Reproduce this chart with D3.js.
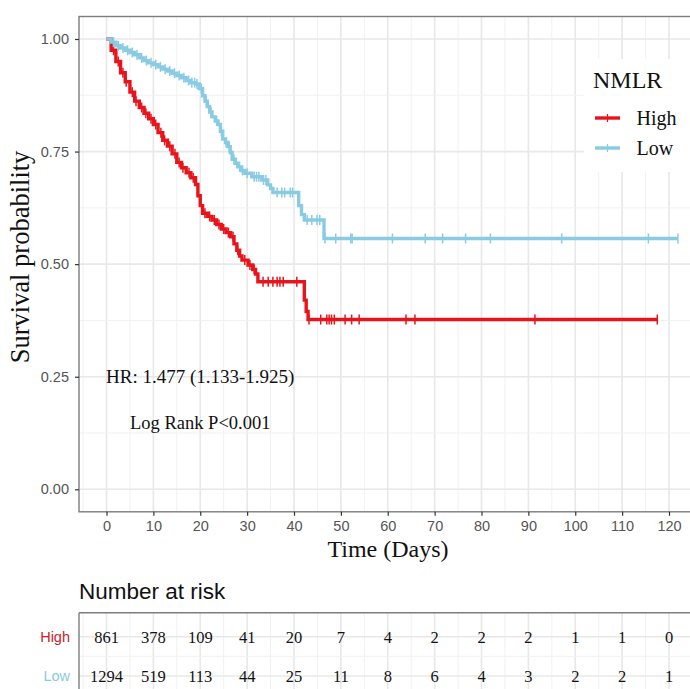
<!DOCTYPE html>
<html>
<head>
<meta charset="utf-8">
<script src="https://cdn.jsdelivr.net/npm/d3@7"></script>
<style>
  body { margin: 0; background: #fff; }
  svg { display: block; }
</style>
</head>
<body>
<div id="chart"></div>
<script>
// Kaplan-Meier steps
const highTime = [0, 1, 2, 3, 4, 5, 6, 7, 8, 9, 10, 11, 12, 13, 14, 15, 16, 17, 18, 19, 19.5, 20, 20.5, 21.5, 22.5, 23.5, 24.5, 25.5, 26.5, 27.2, 27.8, 28.4, 28.9, 30.2, 31.2, 31.8, 32.3, 42.2, 42.6, 43.0];
const highSurv = [1, 0.975, 0.95, 0.925, 0.905, 0.882, 0.862, 0.848, 0.835, 0.823, 0.81, 0.792, 0.775, 0.762, 0.745, 0.726, 0.714, 0.703, 0.692, 0.677, 0.652, 0.63, 0.613, 0.606, 0.598, 0.588, 0.578, 0.57, 0.561, 0.545, 0.531, 0.518, 0.509, 0.498, 0.488, 0.478, 0.461, 0.42, 0.395, 0.377];
const highCensor = [1.5, 2.5, 3.5, 4.2, 5.5, 6.3, 7.5, 8.4, 9.5, 10.5, 11.6, 12.4, 13.5, 14.6, 15.5, 16.3, 17.6, 18.5, 21, 22, 23, 24, 25, 26, 27, 28, 29.5, 30.6, 31.5, 33.4, 34.5, 35.5, 36.4, 37, 37.7, 40.6, 43.2, 45.7, 47, 47.5, 48, 48.6, 50.9, 52.3, 53.9, 63.9, 65.8, 91.4, 117.5];

const lowTime = [0, 1, 2, 3, 4, 5, 6, 7, 8, 9, 10, 11, 12, 13, 14, 15, 16, 17, 18, 19, 19.8, 20.5, 21, 21.5, 22, 22.5, 23.2, 23.8, 24.3, 24.8, 25.4, 25.9, 26.4, 26.8, 27.5, 28, 28.8, 29.5, 31, 33.1, 34.4, 35, 35.5, 41, 41.6, 42.2, 46.4];
const lowSurv = [1, 0.993, 0.985, 0.98, 0.975, 0.97, 0.965, 0.958, 0.952, 0.947, 0.943, 0.938, 0.933, 0.929, 0.924, 0.919, 0.914, 0.908, 0.903, 0.9, 0.89, 0.874, 0.862, 0.85, 0.838, 0.827, 0.818, 0.81, 0.795, 0.778, 0.77, 0.761, 0.748, 0.733, 0.724, 0.716, 0.708, 0.702, 0.694, 0.687, 0.676, 0.668, 0.659, 0.63, 0.61, 0.598, 0.557];
const lowCensor = [1.5, 2.5, 3.5, 4.5, 5.5, 6.5, 7.5, 8.5, 9.5, 10.5, 11.5, 12.5, 13.5, 14.5, 15.5, 16.5, 17.5, 18.2, 18.8, 19.3, 20.2, 21.3, 22.3, 23.5, 24.5, 25.5, 26.2, 27.2, 28.4, 29, 30, 31.5, 32, 32.5, 33.5, 34, 36.4, 37.4, 38, 39.2, 39.7, 42.8, 43.8, 44.9, 45.5, 46.6, 48.9, 52.1, 52.4, 61, 68, 71.7, 76.6, 81.9, 97.1, 115.6, 121.9];

// risk table
const riskTimes = [0, 10, 20, 30, 40, 50, 60, 70, 80, 90, 100, 110, 120];
const riskHigh = [861, 378, 109, 41, 20, 7, 4, 2, 2, 2, 1, 1, 0];
const riskLow = [1294, 519, 113, 44, 25, 11, 8, 6, 4, 3, 2, 2, 1];

const groups = ["High", "Low"];
const colors = ["#e8141c", "#89cbe3"];

const serif = '"Liberation Serif", "Times New Roman", serif';
const sans = '"Liberation Sans", Arial, sans-serif';

const width = 690, height = 689;
const panel = { left: 79, right: 707, top: 16.5, bottom: 511.8 };

const x = d3.scaleLinear().domain([0, 120]).range([106.5, 669]);
const y = d3.scaleLinear().domain([0, 1]).range([489.3, 39]);

const svg = d3.select("#chart")
  .append("svg")
  .attr("width", width)
  .attr("height", height);

// grid lines (minor then major)
const gridX = d3.range(-5, 130, 5);
const gridY = d3.range(0, 1.01, 0.125);

function drawGrid(g, top, bottom, rowsY) {
  g.selectAll(".vx")
    .data(gridX)
    .join("line")
    .attr("x1", (d) => x(d))
    .attr("x2", (d) => x(d))
    .attr("y1", top)
    .attr("y2", bottom)
    .attr("stroke", (d) => (d % 10 === 0 ? "#e8e8e8" : "#f1f1f1"))
    .attr("stroke-width", (d) => (d % 10 === 0 ? 1.6 : 1));
  g.selectAll(".hy")
    .data(rowsY)
    .join("line")
    .attr("x1", panel.left)
    .attr("x2", panel.right)
    .attr("y1", (d) => d.y)
    .attr("y2", (d) => d.y)
    .attr("stroke", (d) => (d.major ? "#e8e8e8" : "#f1f1f1"))
    .attr("stroke-width", (d) => (d.major ? 1.6 : 1));
}

const main = svg.append("g");
drawGrid(
  main,
  panel.top,
  panel.bottom,
  gridY.map((v) => ({ y: y(v), major: Math.round(v * 1000) % 250 === 0 }))
);

// survival curves
const line = d3
  .line()
  .x((d) => x(d[0]))
  .y((d) => y(d[1]))
  .curve(d3.curveStepAfter);

function survAt(times, surv, t) {
  const i = d3.bisectRight(times, t) - 1;
  return surv[Math.max(0, i)];
}

const series = [
  { name: "High", times: highTime, surv: highSurv, censor: highCensor },
  { name: "Low", times: lowTime, surv: lowSurv, censor: lowCensor },
];

series.forEach((s, i) => {
  const end = d3.max(s.censor);
  const pts = s.times.map((t, j) => [t, s.surv[j]]);
  pts.push([end, s.surv[s.surv.length - 1]]);
  const g = main.append("g");
  g.append("path")
    .datum(pts)
    .attr("fill", "none")
    .attr("stroke", colors[i])
    .attr("stroke-width", 3.4)
    .attr("d", line);
  g.selectAll("line")
    .data(s.censor)
    .join("line")
    .attr("x1", (d) => x(d))
    .attr("x2", (d) => x(d))
    .attr("y1", (d) => y(survAt(s.times, s.surv, d)) - 5)
    .attr("y2", (d) => y(survAt(s.times, s.surv, d)) + 5)
    .attr("stroke", colors[i])
    .attr("stroke-width", 1.5);
});

// panel border
main.append("rect")
  .attr("x", panel.left)
  .attr("y", panel.top)
  .attr("width", panel.right - panel.left)
  .attr("height", panel.bottom - panel.top)
  .attr("fill", "none")
  .attr("stroke", "#7d7d7d")
  .attr("stroke-width", 1.4);

// axes
const xAxis = svg.append("g")
  .attr("transform", `translate(0,${panel.bottom})`)
  .call(d3.axisBottom(x).tickValues(riskTimes).tickSize(4).tickPadding(5));
const yAxis = svg.append("g")
  .attr("transform", `translate(${panel.left},0)`)
  .call(d3.axisLeft(y).tickValues([0, 0.25, 0.5, 0.75, 1]).tickFormat(d3.format(".2f")).tickSize(4).tickPadding(6));

[xAxis, yAxis].forEach((a) => {
  a.select(".domain").remove();
  a.selectAll(".tick line").attr("stroke", "#333").attr("stroke-width", 1.2);
  a.selectAll(".tick text")
    .attr("fill", "#555")
    .style("font-family", sans)
    .style("font-size", "14.5px");
});

// axis titles
svg.append("text")
  .attr("x", 388)
  .attr("y", 557)
  .attr("text-anchor", "middle")
  .style("font-family", serif)
  .style("font-size", "24px")
  .attr("fill", "#111")
  .text("Time (Days)");

svg.append("text")
  .attr("transform", "translate(29,257) rotate(-90)")
  .attr("text-anchor", "middle")
  .style("font-family", serif)
  .style("font-size", "26.5px")
  .attr("fill", "#111")
  .text("Survival probability");

// annotations
svg.append("text")
  .attr("x", x(20))
  .attr("y", y(0.25) + 6.5)
  .attr("text-anchor", "middle")
  .style("font-family", serif)
  .style("font-size", "19px")
  .attr("fill", "#111")
  .text("HR: 1.477 (1.133-1.925)");

svg.append("text")
  .attr("x", x(20))
  .attr("y", y(0.148) + 6.5)
  .attr("text-anchor", "middle")
  .style("font-family", serif)
  .style("font-size", "18.5px")
  .attr("fill", "#111")
  .text("Log Rank P<0.001");

// legend
const legend = svg.append("g").attr("transform", "translate(584,59)");
legend.append("rect")
  .attr("width", 120)
  .attr("height", 113)
  .attr("fill", "#fff");
legend.append("text")
  .attr("x", 9)
  .attr("y", 29)
  .style("font-family", serif)
  .style("font-size", "24px")
  .attr("fill", "#111")
  .text("NMLR");
groups.forEach((gname, i) => {
  const ly = 59 + i * 30;
  legend.append("line")
    .attr("x1", 11).attr("x2", 36)
    .attr("y1", ly).attr("y2", ly)
    .attr("stroke", colors[i])
    .attr("stroke-width", 3.4);
  legend.append("line")
    .attr("x1", 23.5).attr("x2", 23.5)
    .attr("y1", ly - 4).attr("y2", ly + 4)
    .attr("stroke", colors[i])
    .attr("stroke-width", 1.2);
  legend.append("text")
    .attr("x", 52.5)
    .attr("y", ly + 6.5)
    .style("font-family", serif)
    .style("font-size", "20px")
    .attr("fill", "#111")
    .text(gname);
});

// number at risk table
svg.append("text")
  .attr("x", panel.left)
  .attr("y", 598.5)
  .style("font-family", sans)
  .style("font-size", "22.5px")
  .attr("fill", "#111")
  .text("Number at risk");

const rowY = d3.scalePoint().domain(groups).range([636.7, 676]);
const table = svg.append("g");
const tableTop = 612.7;
drawGrid(
  table,
  tableTop,
  height + 5,
  [
    { y: rowY("High"), major: true },
    { y: (rowY("High") + rowY("Low")) / 2, major: false },
    { y: rowY("Low"), major: true },
  ]
);
table.append("line")
  .attr("x1", panel.left).attr("x2", panel.right)
  .attr("y1", tableTop).attr("y2", tableTop)
  .attr("stroke", "#7d7d7d").attr("stroke-width", 1.4);
table.append("line")
  .attr("x1", panel.left).attr("x2", panel.left)
  .attr("y1", tableTop).attr("y2", height + 5)
  .attr("stroke", "#7d7d7d").attr("stroke-width", 1.4);

[riskHigh, riskLow].forEach((vals, i) => {
  const ry = rowY(groups[i]);
  table.selectAll(".n" + i)
    .data(vals)
    .join("text")
    .attr("x", (d, j) => x(riskTimes[j]))
    .attr("y", ry + 5.8)
    .attr("text-anchor", "middle")
    .style("font-family", serif)
    .style("font-size", "16.5px")
    .attr("fill", "#111")
    .text((d) => d);
  table.append("text")
    .attr("x", 70)
    .attr("y", ry + 5)
    .attr("text-anchor", "end")
    .style("font-family", sans)
    .style("font-size", "14.5px")
    .attr("fill", i === 0 ? "#c8232c" : colors[i])
    .text(groups[i]);
});
</script>
</body>
</html>
